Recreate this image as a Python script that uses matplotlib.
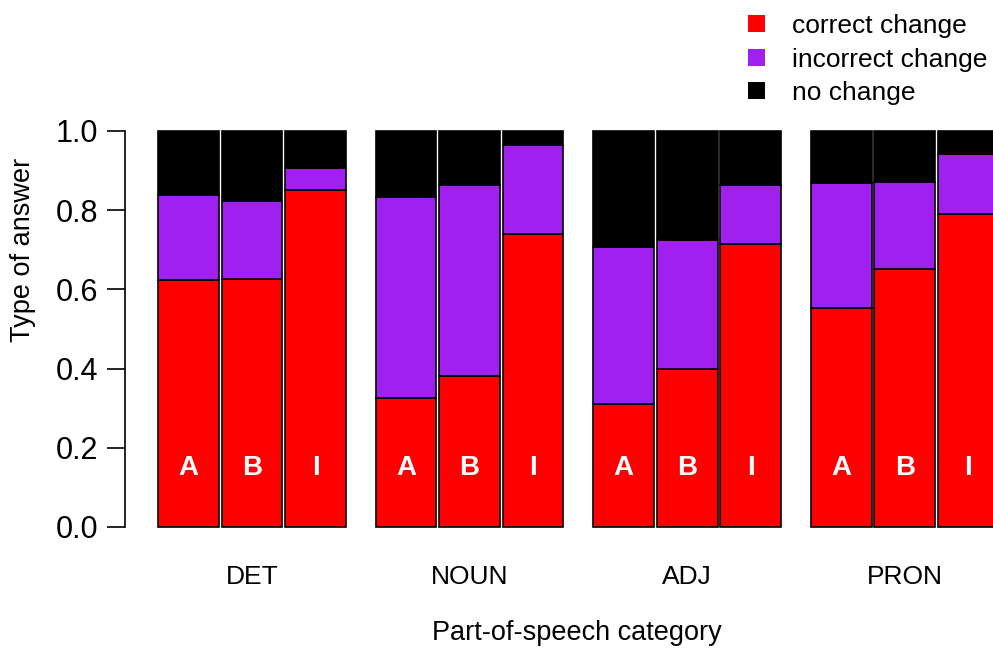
import matplotlib
matplotlib.use("Agg")
from matplotlib import pyplot as plt
from matplotlib.patches import Patch

plt.rcParams['font.family'] = ['Liberation Sans', 'DejaVu Sans']

categories = ["DET", "NOUN", "ADJ", "PRON"]
conditions = ["A", "B", "I"]
# proportion of each answer type per category / condition
correct = [[0.624, 0.626, 0.851],
           [0.326, 0.381, 0.740],
           [0.311, 0.398, 0.715],
           [0.554, 0.651, 0.790]]
incorrect = [[0.214, 0.197, 0.055],
             [0.507, 0.482, 0.225],
             [0.397, 0.328, 0.149],
             [0.315, 0.221, 0.151]]
answer_types = ["correct change", "incorrect change", "no change"]
colors = ["#FF0000", "#A020F0", "#000000"]

W, H = 993, 649
fig = plt.figure(figsize=(W / 100, H / 100), dpi=100)

# axes placed so that y=0 sits at 527 px and y=1 at 131 px
pad = 0.04
px_unit = 396.0
y_bot = 527 + pad * px_unit
y_top = 131 - pad * px_unit
ax = fig.add_axes([125 / W, (H - y_bot) / H, (W - 125) / W, (y_bot - y_top) / H])

pitch = 63.5
group_step = 217.6 / pitch
width = 0.955

centers = []
for g, cat in enumerate(categories):
    for j, cond in enumerate(conditions):
        x = 1.0 + g * group_step + j
        c = correct[g][j]
        i = incorrect[g][j]
        n = 1 - c - i
        ax.bar(x, c, width, bottom=0, color=colors[0], edgecolor="black", linewidth=1.2)
        ax.bar(x, i, width, bottom=c, color=colors[1], edgecolor="black", linewidth=1.2)
        ax.bar(x, n, width, bottom=c + i, color=colors[2], edgecolor="black", linewidth=1.2)
        ax.text(x, 0.15, cond, color="white", fontsize=20, fontweight="bold",
                ha="center", va="center")
    centers.append(1.0 + g * group_step + 1)

ax.set_xlim(0, (W - 125) / pitch)
ax.set_ylim(-pad, 1 + pad)

for s in ["top", "right", "bottom"]:
    ax.spines[s].set_visible(False)
ax.spines["left"].set_bounds(0, 1)
ax.spines["left"].set_linewidth(1.2)
ax.set_yticks([0, 0.2, 0.4, 0.6, 0.8, 1.0])
ax.set_yticklabels(["0.0", "0.2", "0.4", "0.6", "0.8", "1.0"])
ax.tick_params(axis="y", length=13, width=1.2, pad=6, labelsize=22)
ax.set_xticks(centers)
ax.set_xticklabels(categories)
ax.tick_params(axis="x", length=0, pad=16, labelsize=19)

fig.text(23 / W, 1 - 250 / H, "Type of answer", rotation=90, fontsize=19.5,
         ha="center", va="center")
fig.text(577 / W, 1 - 633 / H, "Part-of-speech category", fontsize=19.5,
         ha="center", va="center")

handles = [Patch(facecolor=c, edgecolor="none") for c in colors]
fig.legend(handles, answer_types, loc="upper left", bbox_to_anchor=(748 / W, 1 - 14 / H),
           frameon=False, fontsize=19, handlelength=0.66, handleheight=0.6,
           handletextpad=1.0, labelspacing=0.36, borderaxespad=0, borderpad=0)

fig.savefig("out.png", dpi=100)
